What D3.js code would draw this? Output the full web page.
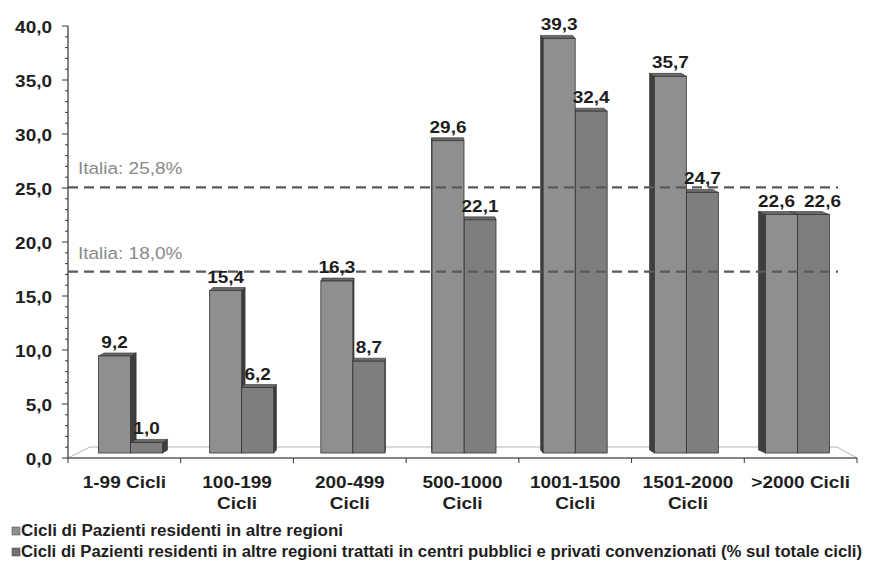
<!DOCTYPE html>
<html><head><meta charset="utf-8">
<script src="https://cdn.jsdelivr.net/npm/d3@7/dist/d3.min.js"></script>
<style>body{margin:0;background:#fff}svg{display:block}</style>
</head><body>
<svg id="c" width="873" height="561"></svg>
<script>
const categories = ["1-99 Cicli","100-199 Cicli","200-499 Cicli","500-1000 Cicli","1001-1500 Cicli","1501-2000 Cicli",">2000 Cicli"];
const categoryLines = [["1-99 Cicli"],["100-199","Cicli"],["200-499","Cicli"],["500-1000","Cicli"],["1001-1500","Cicli"],["1501-2000","Cicli"],[">2000 Cicli"]];
const seriesNames = ["Cicli di Pazienti residenti in altre regioni",
  "Cicli di Pazienti residenti in altre regioni trattati in centri pubblici e privati convenzionati (% sul totale cicli)"];
const residenti = [9.2,15.4,16.3,29.6,39.3,35.7,22.6];
const trattati = [1.0,6.2,8.7,22.1,32.4,24.7,22.6];
const refValues = [25.8, 18.0];
const refLabels = ["Italia: 25,8%","Italia: 18,0%"];
const yTicks = [0,5,10,15,20,25,30,35,40];
const yTickLabels = ["0,0","5,0","10,0","15,0","20,0","25,0","30,0","35,0","40,0"];

const series = [residenti, trattati];
const frontCol = ["#8f8f8f","#7e7e7e"];
const sideCol = "#3e3e3e", topCol = "#6a6a6a", edge = "#333";
const SX = 1.15;
const fmt = v => d3.format(".1f")(v).replace(".", ",");

const svg = d3.select("#c");
const x = d3.scaleBand().domain(categories).range([68, 857]);
const yAxis = d3.scaleLinear().domain([0,40]).range([458, 26]);
const yBar = d3.scaleLinear().domain([0,40]).range([453, 31]);
const sub = d3.scaleBand().domain([0,1]).range([0, 64]);

function txt(g, s, px, py, opts) {
  return g.append("text")
    .attr("transform", `translate(${px},${py}) scale(${SX},1)`)
    .attr("text-anchor", opts.anchor || "middle")
    .attr("font-family", "Liberation Sans, Arial, sans-serif")
    .attr("font-size", opts.size || 16.5)
    .attr("font-weight", opts.weight || "bold")
    .attr("fill", opts.fill || "#1e1e1e")
    .text(s);
}

// floor
svg.append("polygon")
  .attr("points", [[68,458],[857,458],[837,447],[90,447]].map(p=>p.join(",")).join(" "))
  .attr("fill", "#fff").attr("stroke", "#b5b5b5").attr("stroke-width", 1);

// y axis
const ga = svg.append("g");
ga.append("line").attr("x1",68).attr("x2",68).attr("y1",yAxis(40)).attr("y2",yAxis(0)).attr("stroke","#333").attr("stroke-width",1.2);
d3.range(0, 41, 1).forEach(v => {
  const major = v % 5 === 0;
  ga.append("line").attr("x1", major ? 62 : 65).attr("x2", 68)
    .attr("y1", yAxis(v)).attr("y2", yAxis(v)).attr("stroke","#333").attr("stroke-width",1);
});
yTicks.forEach((v,i) => txt(ga, yTickLabels[i], 52, yAxis(v) + 6.5, {anchor:"end"}));

// x axis
ga.append("line").attr("x1",68).attr("x2",857).attr("y1",458).attr("y2",458).attr("stroke","#333").attr("stroke-width",1.2);
categories.forEach((c,i) => {
  ga.append("line").attr("x1",x(c)).attr("x2",x(c)).attr("y1",458).attr("y2",463).attr("stroke","#333");
});
ga.append("line").attr("x1",857).attr("x2",857).attr("y1",458).attr("y2",463).attr("stroke","#333");
categories.forEach((c,i) => {
  const cx = x(c) + x.bandwidth()/2;
  categoryLines[i].forEach((ln, j) => txt(ga, ln, cx, 488 + j*21, {}));
});

// bars (pseudo 3D)
const gb = svg.append("g");
const VP = 413, K = 0.02, DY = -3;
categories.forEach((c,i) => {
  const shift = 1.5 + (3 - i) * 1.55;
  const start = x(c) + (x.bandwidth() - 64)/2 + shift;
  const order = (VP - start) > 0 ? [0,1] : [1,0];
  order.forEach(s => {
    const v = series[s][i];
    const x0 = start + sub(s), w = sub.bandwidth();
    const yt = yBar(v), yb = yBar(0);
    const ex = (VP - (x0 + w)) > 0 ? x0 + w : x0;
    const dx = K * (VP - ex);
    if (Math.abs(dx) > 0.3) {
      gb.append("polygon")
        .attr("points", [[ex,yt],[ex+dx,yt+DY],[ex+dx,yb+DY],[ex,yb]].map(p=>p.join(",")).join(" "))
        .attr("fill", sideCol).attr("stroke", edge).attr("stroke-width",0.6);
    }
    gb.append("polygon")
      .attr("points", [[x0,yt],[x0+w,yt],[x0+w+dx,yt+DY],[x0+dx,yt+DY]].map(p=>p.join(",")).join(" "))
      .attr("fill", topCol).attr("stroke", edge).attr("stroke-width",0.6);
    gb.append("rect").attr("x", x0).attr("y", yt).attr("width", w).attr("height", yb - yt)
      .attr("fill", frontCol[s]).attr("stroke", edge).attr("stroke-width", 0.8);
  });
});

// reference lines
const gr = svg.append("g");
refValues.forEach((v,i) => {
  const yy = yAxis(v) + 8;
  gr.append("line").attr("x1",68).attr("x2",838).attr("y1",yy).attr("y2",yy)
    .attr("stroke","#5a5a5a").attr("stroke-width",2.2).attr("stroke-dasharray","10,6");
  txt(gr, refLabels[i], 78, yy - 13, {anchor:"start", weight:"normal", fill:"#8a8a8a"});
});

// value labels (pushed apart when they would collide)
const gl = svg.append("g");
const MINSEP = 46;
categories.forEach((c,i) => {
  const shift = 1.5 + (3 - i) * 1.55;
  const start = x(c) + (x.bandwidth() - 64)/2 + shift;
  const pos = series.map((arr, s) => ({v: arr[i], cx: start + sub(s) + sub.bandwidth()/2, cy: yBar(arr[i]) - 8}));
  if (Math.abs(pos[0].cy - pos[1].cy) < 16 && pos[1].cx - pos[0].cx < MINSEP) {
    const mid = (pos[0].cx + pos[1].cx) / 2 + 2;
    pos[0].cx = mid - MINSEP/2; pos[1].cx = mid + MINSEP/2;
  }
  pos.forEach(p => txt(gl, fmt(p.v), p.cx, p.cy, {}));
});

// legend
const gleg = svg.append("g");
const legCol = ["#8f8f8f","#707070"];
const legW = [322, 841];
seriesNames.forEach((n,i) => {
  const by = 536 + i*21;
  gleg.append("rect").attr("x",12).attr("y",by-9).attr("width",8).attr("height",8)
    .attr("fill",legCol[i]).attr("stroke","#555").attr("stroke-width",0.6);
  gleg.append("text").attr("x",21).attr("y",by)
    .attr("font-family","Liberation Sans, Arial, sans-serif").attr("font-size",16).attr("font-weight","bold")
    .attr("fill","#1e1e1e").attr("textLength", legW[i]).attr("lengthAdjust","spacingAndGlyphs").text(n);
});
</script>
</body></html>
